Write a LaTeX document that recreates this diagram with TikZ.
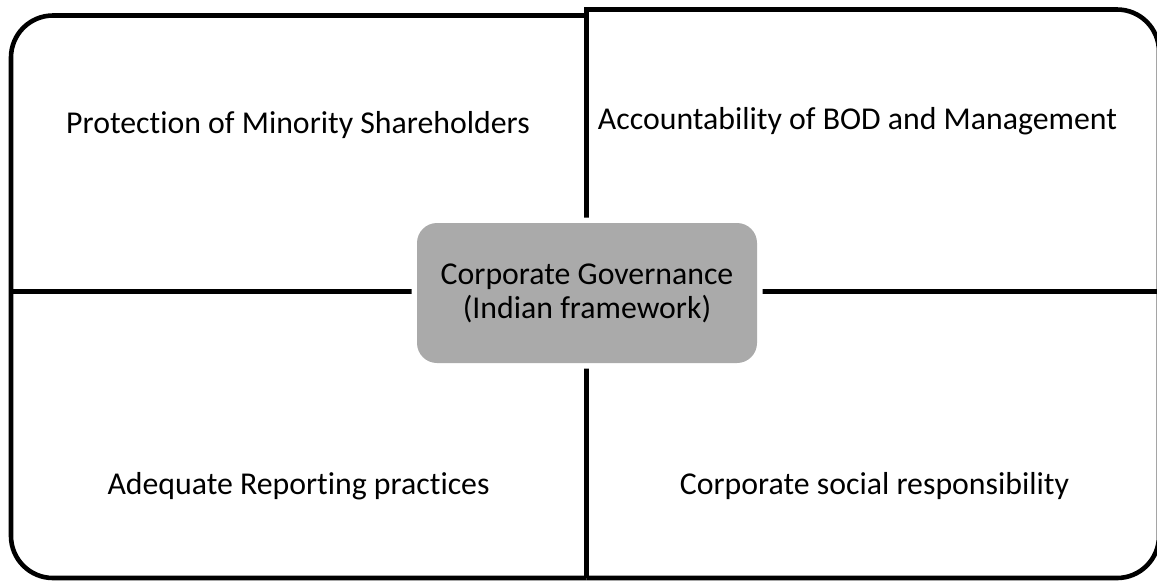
\documentclass[tikz,border=0pt]{standalone}
\usepackage{fontspec}
\setmainfont{Carlito}[Ligatures={NoCommon}]
\definecolor{boxgray}{HTML}{AAAAAA}
\begin{document}
\begin{tikzpicture}[x=1pt,y=-1pt,
  frame/.style={draw=black,line width=4.6pt,line join=miter},
  lbl/.style={anchor=base,inner sep=0pt,font=\fontsize{31.8}{34}\selectfont,text=black},
  cgbox/.style={fill=boxgray,rounded corners=20pt,minimum width=340pt,minimum height=140pt,
    inner sep=0pt,align=center,font=\fontsize{31.8}{34}\selectfont,text=black,
    preaction={draw=white,line width=11pt}}]
\useasboundingbox (0,0) rectangle (1157,582);
% key coordinates
\coordinate (vt) at (586.5,9.5);
\coordinate (vb) at (586.5,578);
\coordinate (hl) at (11,291.5);
\coordinate (hr) at (1159,291.5);
\coordinate (tlt) at (586.5,15.5);
% outer frame, left half
\draw[frame,rounded corners=42pt] (tlt) -- (11,15.5) -- (11,578) -- (vb);
% outer frame, right half
\draw[frame] (vb) -- (vt) -- (1050,9.5);
\draw[frame,rounded corners=42pt] (1000,9.5) -- (1159,9.5) -- (1159,578) -- (vb);
% horizontal divider
\draw[frame] (hl) -- (hr);
% centre box
\node[cgbox] (cg) at (587,293) {Corporate Governance\\(Indian framework)};
% quadrant labels
\node[lbl] (tl) at (298,133) {Protection of Minority Shareholders};
\node[lbl] (tr) at (857.5,129) {Accountability of BOD and Management};
\node[lbl] (bl) at (298.5,494) {Adequate Reporting practices};
\node[lbl] (br) at (874.5,494) {Corporate social responsibility};
\end{tikzpicture}
\end{document}
